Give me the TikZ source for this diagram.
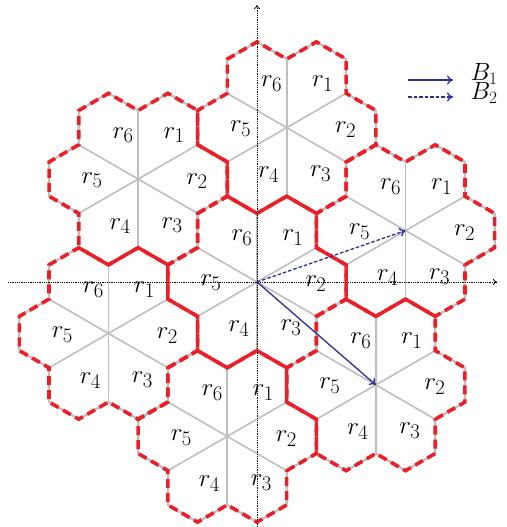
\documentclass[tikz,border=0pt]{standalone}
\usetikzlibrary{calc,arrows.meta}
\definecolor{hexred}{RGB}{236,30,40}
\definecolor{spokegray}{RGB}{190,190,190}
\definecolor{bnavy}{RGB}{45,45,150}
\begin{document}
\begin{tikzpicture}[x=1pt,y=1pt,
  spoke/.style={spokegray, line width=1.6pt},
  hexline/.style={spokegray, line width=2.2pt, line join=round},
  hexdash/.style={hexred, line width=3.6pt, dash pattern=on 9pt off 5pt},
  lab/.style={font=\fontsize{32}{36}\selectfont, inner sep=0pt},
  blab/.style={font=\fontsize{26}{30}\selectfont, inner sep=0pt},
  axis/.style={densely dotted, line width=0.8pt, -{To[length=4pt,width=6pt]}},
  barrow/.style={bnavy, line width=1.3pt, -{To[length=6pt,width=9pt]}},
  barrowd/.style={bnavy, line width=1.3pt, dash pattern=on 3.5pt off 2pt, -{To[length=6pt,width=9pt]}}]
\def\s{34.3}
\def\d{59.41}
\def\D{157.2}
\useasboundingbox (-257,-245) rectangle (249,282);
\coordinate (C0) at (0,0);
\coordinate (C1) at (19.1:\D);
\coordinate (C2) at (79.1:\D);
\coordinate (C3) at (139.1:\D);
\coordinate (C4) at (199.1:\D);
\coordinate (C5) at (259.1:\D);
\coordinate (C6) at (319.1:\D);
% gray spokes and outlines
\foreach \c in {C0,C1,C2,C3,C4,C5,C6}{
  \foreach \a in {30,90,150,210,270,330}
    \draw[spoke] (\c) -- ($(\c)+(\a:2*\s)$);
  \draw[hexline] ($(\c)+(0:\d)+(-90:\s)$)
    \foreach \t in {0,60,120,180,240,300}{
      -- ($(\c)+(\t:\d)+(\t-30:\s)$)
      -- ($(\c)+(\t:\d)+(\t+30:\s)$)
      -- ($(\c)+(\t:\d)+(\t+90:\s)$)
    } -- cycle;
}
% red dashed outlines
\foreach \c in {C0,C1,C2,C3,C4,C5,C6}{
  \draw[hexdash] ($(\c)+(0:\d)+(-90:\s)$)
    \foreach \t in {0,60,120,180,240,300}{
      -- ($(\c)+(\t:\d)+(\t-30:\s)$)
      -- ($(\c)+(\t:\d)+(\t+30:\s)$)
      -- ($(\c)+(\t:\d)+(\t+90:\s)$)
    } -- cycle;
}
% sector labels
\foreach \c in {C0,C1,C2,C3,C4,C5,C6}{
  \node[lab] (\c-r1) at ($(\c)+(36,44)$) {$r_1$};
  \node[lab] (\c-r2) at ($(\c)+(59,-2)$) {$r_2$};
  \node[lab] (\c-r3) at ($(\c)+(34,-46)$) {$r_3$};
  \node[lab] (\c-r4) at ($(\c)+(-18,-47)$) {$r_4$};
  \node[lab] (\c-r5) at ($(\c)+(-46,-1)$) {$r_5$};
  \node[lab] (\c-r6) at ($(\c)+(-15,44)$) {$r_6$};
}
% axes
\coordinate (xL) at (-249,0);
\coordinate (xR) at (240,0);
\coordinate (yB) at (0,-245);
\coordinate (yT) at (0,277);
\draw[axis] (xL) -- (xR);
\draw[axis] (yB) -- (yT);
% B vectors
\draw[barrow] (C0) -- (C6);
\draw[barrowd] (C0) -- (C1);
% legend
\coordinate (L1a) at (151,202);
\coordinate (L1b) at (196,202);
\coordinate (L2a) at (151,185);
\coordinate (L2b) at (196,185);
\draw[barrow] (L1a) -- (L1b);
\draw[barrowd] (L2a) -- (L2b);
\node[blab] (B1) at (227,208) {$B_1$};
\node[blab] (B2) at (227,189) {$B_2$};
\end{tikzpicture}
\end{document}
